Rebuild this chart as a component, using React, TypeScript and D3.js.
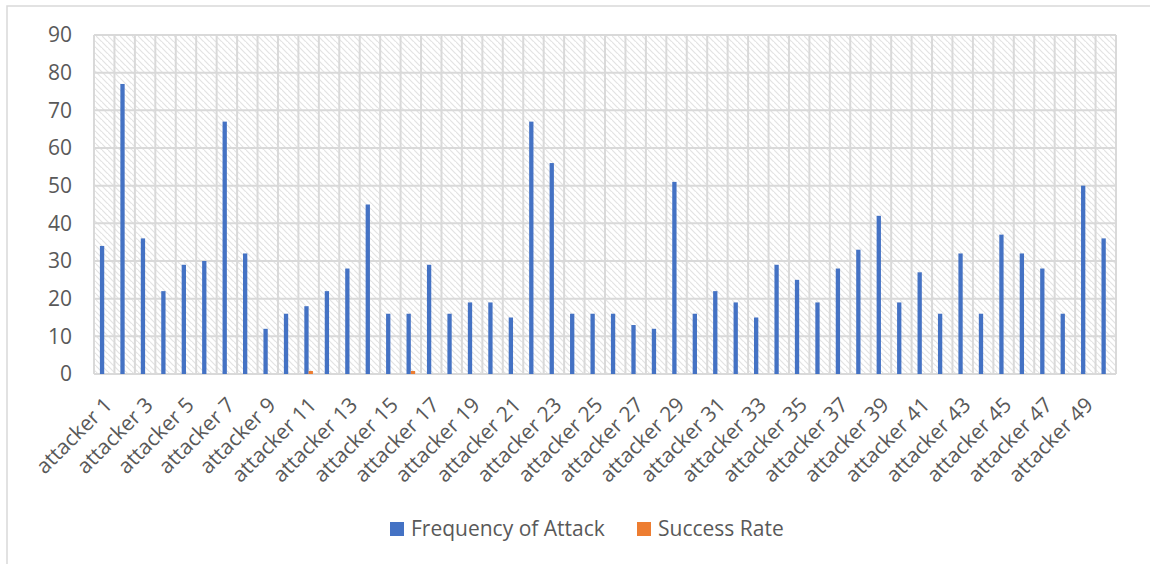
import React from "react";
import * as d3 from "d3";

const attackers: string[] = Array.from({ length: 50 }, (_, i) => `attacker ${i + 1}`);

const frequencyOfAttack: number[] = [
  34, 77, 36, 22, 29, 30, 67, 32, 12, 16,
  18, 22, 28, 45, 16, 16, 29, 16, 19, 19,
  15, 67, 56, 16, 16, 16, 13, 12, 51, 16,
  22, 19, 15, 29, 25, 19, 28, 33, 42, 19,
  27, 16, 32, 16, 37, 32, 28, 16, 50, 36,
];

const successRate: number[] = [
  0, 0, 0, 0, 0, 0, 0, 0, 0, 0,
  0.8, 0, 0, 0, 0, 0.8, 0, 0, 0, 0,
  0, 0, 0, 0, 0, 0, 0, 0, 0, 0,
  0, 0, 0, 0, 0, 0, 0, 0, 0, 0,
  0, 0, 0, 0, 0, 0, 0, 0, 0, 0,
];

const yTicks: number[] = [0, 10, 20, 30, 40, 50, 60, 70, 80, 90];

const seriesNames = ["Frequency of Attack", "Success Rate"];
const seriesColors = ["#4472C4", "#ED7D31"];

const W = 1150;
const H = 564;
const plot = { left: 94, top: 35, right: 1116, bottom: 374 };
const FONT = "'Open Sans', 'Noto Sans', sans-serif";
const FS = 21;
const TEXT = "#595959";
const GRID = "#d9d9d9";

export default function App() {
  const x = d3
    .scaleBand<string>()
    .domain(attackers)
    .range([plot.left, plot.right])
    .paddingInner(0)
    .paddingOuter(0);
  const y = d3.scaleLinear().domain([0, 90]).range([plot.bottom, plot.top]);

  const bw = x.bandwidth();
  const barW = 4.3;
  const series = [frequencyOfAttack, successRate];

  return (
    <svg
      width={W}
      height={H}
      style={{ position: "absolute", left: 0, top: 0, background: "#fff" }}
    >
      <defs>
        <pattern id="hatch" width={6} height={6} patternUnits="userSpaceOnUse">
          <rect width={6} height={6} fill="#ffffff" />
          <path
            d="M-1,-1 L7,7 M-4,2 L2,8 M4,-4 L10,2"
            stroke="#e3e3e3"
            strokeWidth={1.2}
          />
        </pattern>
      </defs>

      {/* chart frame */}
      <rect x={7} y={6} width={W + 20} height={H + 20} fill="#fff" stroke={GRID} strokeWidth={1.5} />

      {/* plot background */}
      <rect
        x={plot.left}
        y={plot.top}
        width={plot.right - plot.left}
        height={plot.bottom - plot.top}
        fill="url(#hatch)"
      />

      {/* horizontal gridlines */}
      {yTicks.map((t) => (
        <line
          key={`h${t}`}
          x1={plot.left}
          x2={plot.right}
          y1={y(t)}
          y2={y(t)}
          stroke={GRID}
          strokeWidth={2}
        />
      ))}
      {/* vertical gridlines at category boundaries */}
      {attackers.map((a) => (
        <line
          key={`v${a}`}
          x1={x(a)!}
          x2={x(a)!}
          y1={plot.top}
          y2={plot.bottom}
          stroke={GRID}
          strokeWidth={2}
        />
      ))}
      <line
        x1={plot.right}
        x2={plot.right}
        y1={plot.top}
        y2={plot.bottom}
        stroke={GRID}
        strokeWidth={2}
      />

      {/* bars */}
      {series.map((vals, si) =>
        vals.map((v, i) => {
          if (v <= 0) return null;
          const cx = x(attackers[i])! + bw / 2;
          const bx = si === 0 ? cx - barW : cx;
          return (
            <rect
              key={`b${si}-${i}`}
              x={bx}
              y={y(v)}
              width={barW}
              height={y(0) - y(v)}
              fill={seriesColors[si]}
            />
          );
        })
      )}

      {/* y axis labels */}
      {yTicks.map((t) => (
        <text
          key={`yl${t}`}
          x={72}
          y={y(t)}
          dy="0.35em"
          textAnchor="end"
          fontFamily={FONT}
          fontSize={FS}
          fill={TEXT}
        >
          {t}
        </text>
      ))}

      {/* x axis labels, every other category */}
      {attackers.map((a, i) =>
        i % 2 === 0 ? (
          <text
            key={`xl${a}`}
            transform={`translate(${x(a)! + bw / 2 + 4},${plot.bottom + 27}) rotate(-45)`}
            textAnchor="end"
            dy="0.35em"
            fontFamily={FONT}
            fontSize={FS}
            fill={TEXT}
          >
            {a}
          </text>
        ) : null
      )}

      {/* legend */}
      {seriesNames.map((name, i) => {
        const lx = i === 0 ? 390 : 637;
        return (
          <g key={name}>
            <rect x={lx} y={522} width={14} height={14} fill={seriesColors[i]} />
            <text
              x={lx + 21}
              y={529}
              dy="0.35em"
              fontFamily={FONT}
              fontSize={FS}
              fill={TEXT}
            >
              {name}
            </text>
          </g>
        );
      })}
    </svg>
  );
}
